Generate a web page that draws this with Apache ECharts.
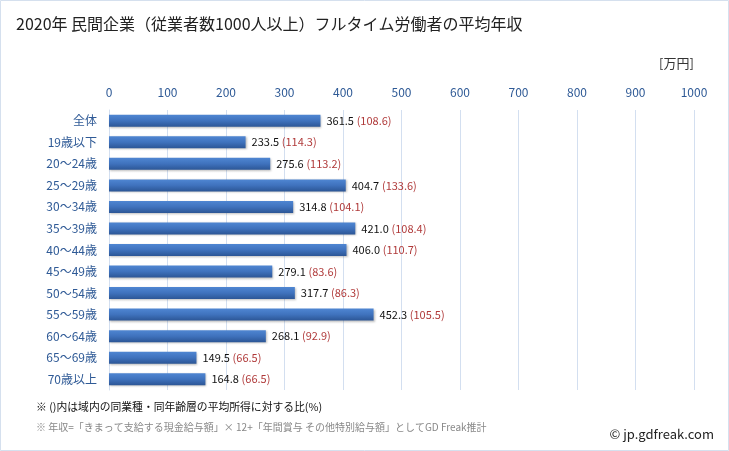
<!DOCTYPE html>
<html><head><meta charset="utf-8">
<script src="https://cdn.jsdelivr.net/npm/echarts@6/dist/echarts.min.js"></script>
<style>html,body{margin:0;padding:0;background:#fff}#c{width:729px;height:451px}</style>
</head><body><div id="c"></div>
<script>
const categories = ["全体","19歳以下","20～24歳","25～29歳","30～34歳","35～39歳","40～44歳","45～49歳","50～54歳","55～59歳","60～64歳","65～69歳","70歳以上"];
const salaries = [361.5,233.5,275.6,404.7,314.8,421.0,406.0,279.1,317.7,452.3,268.1,149.5,164.8];
const ratios = [108.6,114.3,113.2,133.6,104.1,108.4,110.7,83.6,86.3,105.5,92.9,66.5,66.5];
const xTicks = [0,100,200,300,400,500,600,700,800,900,1000];

const FONT = '"Noto Sans CJK JP", sans-serif';
const chart = echarts.init(document.getElementById('c'), null, {renderer:'canvas'});
chart.setOption({
  backgroundColor:'#fff',
  animation:false,
  textStyle:{fontFamily:FONT},
  graphic:[
    {type:'rect',shape:{x:0.5,y:0.5,width:728,height:450},style:{fill:'none',stroke:'#d5e0ee',lineWidth:1}},
    {type:'text',left:16,top:16,style:{text:'2020年 民間企業（従業者数1000人以上）フルタイム労働者の平均年収',font:'16px '+FONT,fill:'#222'}},
    {type:'text',left:659,top:57,style:{text:'[万円]',font:'13px '+FONT,fill:'#333'}},
    {type:'text',left:36,top:402,style:{text:'※ ()内は域内の同業種・同年齢層の平均所得に対する比(%)',font:'10.8px '+FONT,fill:'#111'}},
    {type:'text',left:36,top:422,style:{text:'※ 年収=「きまって支給する現金給与額」× 12+「年間賞与 その他特別給与額」としてGD Freak推計',font:'10px '+FONT,fill:'#888'}},
    {type:'text',right:15,top:428,style:{text:'© jp.gdfreak.com',font:'13px '+FONT,fill:'#222'}}
  ],
  grid:{left:109,right:35,top:110,bottom:61,containLabel:false},
  xAxis:{
    type:'value',position:'top',min:0,max:1000,interval:100,
    axisLine:{show:false},axisTick:{show:false},
    axisLabel:{color:'#2f5a96',fontSize:12,margin:12,fontFamily:FONT,
      formatter:v=>xTicks.includes(v)?String(v):''},
    splitLine:{show:true,lineStyle:{color:'#d3dff0',width:1}}
  },
  yAxis:{
    type:'category',inverse:true,data:categories,
    axisLine:{show:true,lineStyle:{color:'#d3dff0'}},axisTick:{show:false},
    axisLabel:{color:'#2f5a96',fontSize:12,margin:12,fontFamily:FONT}
  },
  series:[{
    type:'bar',barWidth:12,
    data:salaries,
    itemStyle:{
      color:new echarts.graphic.LinearGradient(0,0,0,1,[
        {offset:0,color:'#4f86d2'},{offset:0.5,color:'#3f72bd'},{offset:1,color:'#2c5696'}]),
      shadowColor:'rgba(0,0,0,0.25)',shadowBlur:2,shadowOffsetX:1,shadowOffsetY:1
    },
    label:{
      show:true,position:'right',distance:6,
      formatter:p=>'{v|'+salaries[p.dataIndex].toFixed(1)+'} {r|('+ratios[p.dataIndex].toFixed(1)+')}',
      rich:{
        v:{color:'#111',fontSize:11,fontFamily:FONT},
        r:{color:'#b03a3a',fontSize:11,fontFamily:FONT}
      }
    }
  }]
});
</script></body></html>
